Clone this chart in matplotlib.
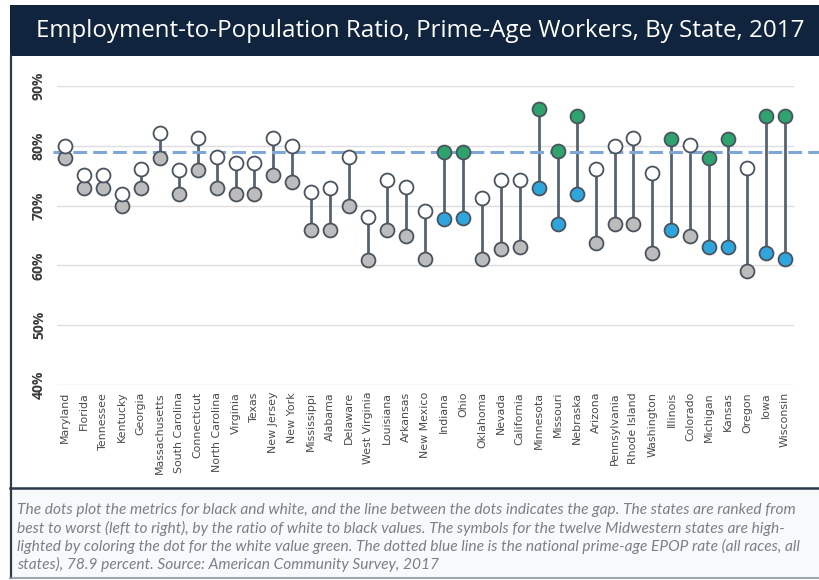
import matplotlib
matplotlib.use("Agg")
import matplotlib.pyplot as plt
from matplotlib.lines import Line2D
from matplotlib.patches import Rectangle

# states ranked left to right by white/black ratio
STATES = [
    "Maryland", "Florida", "Tennessee", "Kentucky", "Georgia", "Massachusetts",
    "South Carolina", "Connecticut", "North Carolina", "Virginia", "Texas",
    "New Jersey", "New York", "Mississippi", "Alabama", "Delaware",
    "West Virginia", "Louisiana", "Arkansas", "New Mexico", "Indiana", "Ohio",
    "Oklahoma", "Nevada", "California", "Minnesota", "Missouri", "Nebraska",
    "Arizona", "Pennsylvania", "Rhode Island", "Washington", "Illinois",
    "Colorado", "Michigan", "Kansas", "Oregon", "Iowa", "Wisconsin",
]
WHITE_EPOP = [
    80.0, 75.2, 75.2, 72.0, 76.2, 82.2, 75.9, 81.3, 78.2, 77.2, 77.2,
    81.3, 80.0, 72.2, 73.0, 78.2, 68.1, 74.2, 73.1, 69.1, 78.9, 79.0,
    71.3, 74.2, 74.2, 86.1, 79.1, 85.0, 76.2, 80.0, 81.3, 75.4, 81.1,
    80.1, 77.9, 81.1, 76.3, 85.0, 85.0,
]
BLACK_EPOP = [
    78.0, 73.0, 73.0, 70.0, 73.0, 78.0, 72.0, 76.0, 73.0, 72.0, 72.0,
    75.1, 74.0, 66.0, 66.0, 70.0, 60.9, 66.0, 65.0, 61.0, 67.8, 68.0,
    61.0, 62.8, 63.0, 73.0, 66.9, 71.9, 63.8, 67.0, 67.0, 62.0, 66.0,
    65.0, 63.0, 63.0, 59.1, 62.0, 61.0,
]
MIDWEST = {"Indiana", "Ohio", "Minnesota", "Missouri", "Nebraska", "Illinois",
           "Michigan", "Kansas", "Iowa", "Wisconsin"}
NATIONAL_EPOP = 78.9
Y_TICKS = [40, 50, 60, 70, 80, 90]
Y_TICK_LABELS = ["40%", "50%", "60%", "70%", "80%", "90%"]

TITLE = "Employment-to-Population Ratio, Prime-Age Workers, By State, 2017"
NOTE_LINES = [
    "The dots plot the metrics for black and white, and the line between the dots indicates the gap. The states are ranked from",
    "best to worst (left to right), by the ratio of white to black values. The symbols for the twelve Midwestern states are high-",
    "lighted by coloring the dot for the white value green. The dotted blue line is the national prime-age EPOP rate (all races, all",
    "states), 78.9 percent. Source: American Community Survey, 2017",
]

NAVY = "#10243d"
STEM = "#56636f"
EDGE = "#4a545e"
GREEN = "#2ea36e"
BLUE = "#2ea5dd"
GRAY_DOT = "#bcbcbc"
DASH = "#7ea6d6"

W, H = 820, 580
fig = plt.figure(figsize=(W / 100, H / 100), dpi=100)
fig.patch.set_facecolor("white")


def fx(px):
    return px / W


def fy(py):
    return 1 - py / H


# title banner
fig.add_artist(Rectangle((fx(10), fy(56)), fx(810), fy(5) - fy(56),
                         transform=fig.transFigure, facecolor=NAVY,
                         edgecolor="none", zorder=0))
fig.text(fx(420), fy(31), TITLE, color="white", fontsize=17.4,
         family=["Open Sans", "DejaVu Sans"], ha="center", va="center")

# footnote panel
fig.add_artist(Rectangle((fx(10), fy(578)), fx(810), fy(489) - fy(578),
                         transform=fig.transFigure, facecolor="#f8f9fb",
                         edgecolor="none", zorder=0))
fig.add_artist(Line2D([fx(11), fx(11)], [fy(56), fy(578)],
                      transform=fig.transFigure, color="#2c3a4c", lw=1.6))
fig.add_artist(Line2D([fx(10), fx(820)], [fy(488), fy(488)],
                      transform=fig.transFigure, color="#2c3a4c", lw=1.8))
fig.add_artist(Line2D([fx(10), fx(820)], [fy(578), fy(578)],
                      transform=fig.transFigure, color="#8a96a3", lw=1.2))
for i, line in enumerate(NOTE_LINES):
    fig.text(fx(17), fy(510 + 18 * i), line, color="#7b8088", fontsize=11.2,
             style="italic", family=["Lato", "DejaVu Sans"],
             ha="left", va="center")

# dumbbell chart
ax = fig.add_axes([fx(57), fy(385), fx(794) - fx(57), fy(86) - fy(385)])
ax.set_xlim(-0.42, len(STATES) - 1 + 0.47)
ax.set_ylim(40, 90)
for side in ax.spines.values():
    side.set_visible(False)
ax.set_yticks(Y_TICKS)
ax.set_yticklabels(Y_TICK_LABELS, rotation=90, va="center", fontsize=10,
                   fontweight="bold", color="#3b3b3b",
                   family=["Open Sans", "DejaVu Sans"])
ax.set_xticks(range(len(STATES)))
ax.set_xticklabels(STATES, rotation=90, va="top", ha="center", fontsize=7.9,
                   color="#4a4a4a", family=["DejaVu Sans"])
ax.tick_params(axis="y", length=0, pad=8)
ax.tick_params(axis="x", length=0, pad=5)
ax.grid(axis="y", color="#dedede", lw=1)
ax.set_axisbelow(True)

xs = list(range(len(STATES)))
ax.vlines(xs, BLACK_EPOP, WHITE_EPOP, color=STEM, lw=2, zorder=2)
ax.axhline(NATIONAL_EPOP, xmin=-0.006, xmax=1.04, color=DASH, lw=2.2,
           ls=(0, (4.5, 2)), zorder=2.5, clip_on=False)

for x, state, w, b in zip(xs, STATES, WHITE_EPOP, BLACK_EPOP):
    mid = state in MIDWEST
    ax.plot(x, b, "o", ms=10, mfc=BLUE if mid else GRAY_DOT, mec=EDGE,
            mew=1.3, zorder=3, clip_on=False)
    ax.plot(x, w, "o", ms=10, mfc=GREEN if mid else "white", mec=EDGE,
            mew=1.3, zorder=4, clip_on=False)

fig.savefig("out.png", dpi=100)
